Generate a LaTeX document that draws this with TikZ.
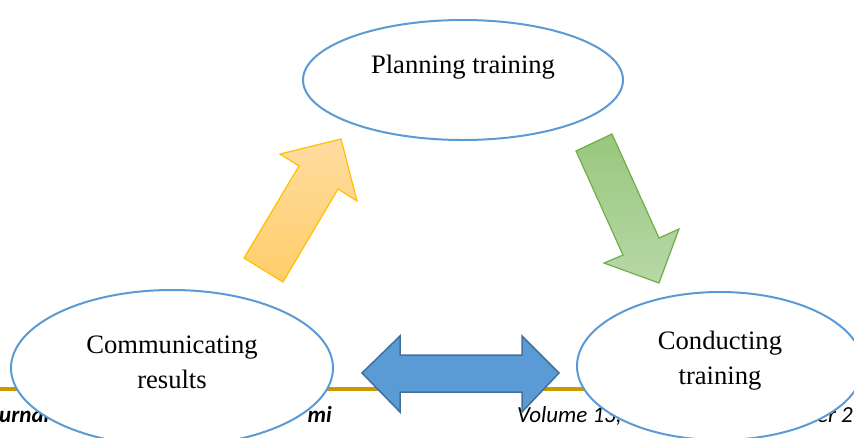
\documentclass[tikz,border=0pt]{standalone}
\usepackage{fontspec}
\setmainfont{Liberation Serif}
\newfontfamily\footfont{Carlito}
\usetikzlibrary{shapes.geometric}
\definecolor{ovalblue}{RGB}{91,155,213}
\definecolor{darkblue}{RGB}{65,113,156}
\definecolor{rulegold}{RGB}{204,153,0}
\begin{document}
\begin{tikzpicture}[x=1pt,y=-1pt,
oval/.style={ellipse,draw=ovalblue,line width=2pt,fill=white,inner sep=0pt},
lbl/.style={font=\fontsize{26.6}{35}\selectfont,align=center},
foot/.style={font=\footfont\fontsize{23}{27}\selectfont\itshape,inner sep=0pt},
footb/.style={foot,font=\footfont\fontsize{23}{27}\selectfont\bfseries\itshape}]
\useasboundingbox (0,0) rectangle (854,437);
% footer of the page under the figure
\coordinate (R1) at (0,389); \coordinate (R2) at (854,389);
\draw[rulegold,line width=4pt](R1)--(R2);
\node[footb,anchor=base west](jl) at (-1,422) {urnal};
\node[footb,anchor=base east](jr) at (332,422) {mi};
\node[foot,anchor=base west](vl) at (517,422) {Volume 13,};
\node[foot,anchor=base east](vr) at (853,422) {ber 2};
% the three ovals
\node[oval,minimum width=320pt,minimum height=120pt](plan) at (463,80) {};
\node[lbl](plantxt) at (463,67) {Planning training};
\node[oval,minimum width=322pt,minimum height=156pt](comm) at (172,368) {};
\node[lbl](commtxt) at (172,362) {Communicating\\results};
\node[oval,minimum width=286pt,minimum height=148pt](cond) at (720,366) {};
\node[lbl](condtxt) at (720,361) {Conducting\\training};
% block arrows
\draw[draw={rgb,255:red,255;green,192;blue,0},line width=1.2pt,line join=miter,
top color={rgb,255:red,255;green,220;blue,160},bottom color={rgb,255:red,255;green,205;blue,105}]
(244,258)--(299,166)--(280,154)--(341,139)--(357,201)--(338,189)--(283,282)--cycle;
\draw[draw={rgb,255:red,112;green,173;blue,71},line width=1.2pt,line join=miter,
top color={rgb,255:red,152;green,199;blue,125},bottom color={rgb,255:red,184;green,216;blue,167}]
(576,151)--(612,134)--(659,238)--(679,229)--(659,283)--(604,263)--(623,255)--cycle;
\draw[draw=darkblue,fill=ovalblue,line width=1.5pt,line join=miter]
(362,373)--(400,336)--(400,355)--(522,355)--(522,336)--(559,373)--(522,412)--(522,392)
--(400,392)--(400,412)--cycle;
\end{tikzpicture}
\end{document}
